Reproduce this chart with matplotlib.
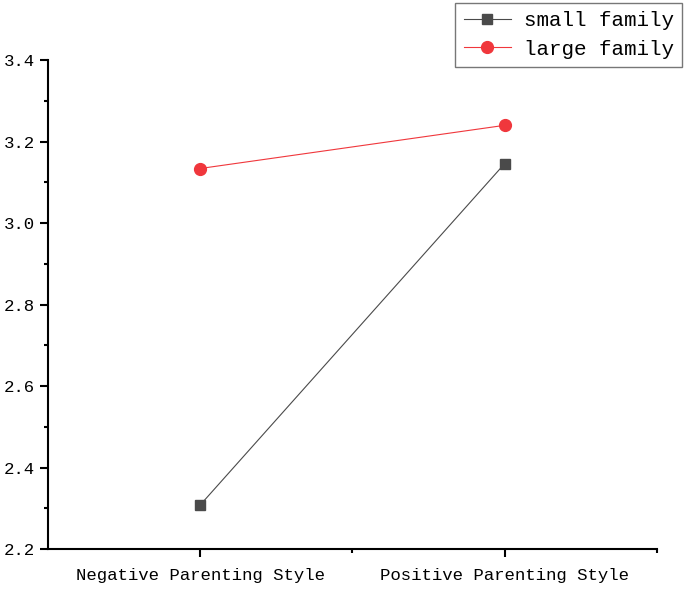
import matplotlib
matplotlib.use("Agg")
import matplotlib.pyplot as plt
from matplotlib.ticker import MultipleLocator, FixedLocator

# datos
categorias = ["Negative Parenting Style", "Positive Parenting Style"]
small_family = [2.308, 3.146]
large_family = [3.134, 3.240]

plt.rcParams['font.family'] = ['Liberation Mono', 'DejaVu Sans Mono']

fig = plt.figure(figsize=(6.85, 5.89), dpi=100)
ax = fig.add_axes([0.070, 0.0679, 0.889, 0.830])

x = [1, 2]
ax.plot(x, small_family, color="#4a4a4a", lw=0.8, marker="s", markersize=7.5,
        label="small family")
ax.plot(x, large_family, color="#f0373c", lw=0.8, marker="o", markersize=8.5,
        label="large family")

ax.set_xlim(0.5, 2.5)
ax.set_ylim(2.2, 3.4)
ax.set_xticks(x)
ax.set_xticklabels(categorias)
ax.xaxis.set_minor_locator(FixedLocator([1.5, 2.5]))
ax.yaxis.set_major_locator(MultipleLocator(0.2))
ax.yaxis.set_minor_locator(MultipleLocator(0.1))
ax.yaxis.set_major_formatter(matplotlib.ticker.FormatStrFormatter("%.1f"))

for s in ["top", "right"]:
    ax.spines[s].set_visible(False)
for s in ["left", "bottom"]:
    ax.spines[s].set_linewidth(1.5)

ax.tick_params(which="major", direction="out", length=6, width=1.5, labelsize=12.5)
ax.tick_params(which="minor", direction="out", length=3, width=1.5)
ax.tick_params(axis="x", pad=8)

leg = ax.legend(loc="upper right", bbox_to_anchor=(0.996, 0.995),
                bbox_transform=fig.transFigure, borderaxespad=0,
                fancybox=False, edgecolor="#555555", fontsize=15,
                handlelength=2.3, handletextpad=0.6, borderpad=0.4,
                labelspacing=0.45)
leg.get_frame().set_linewidth(1.0)

fig.savefig("out.png", dpi=100)
